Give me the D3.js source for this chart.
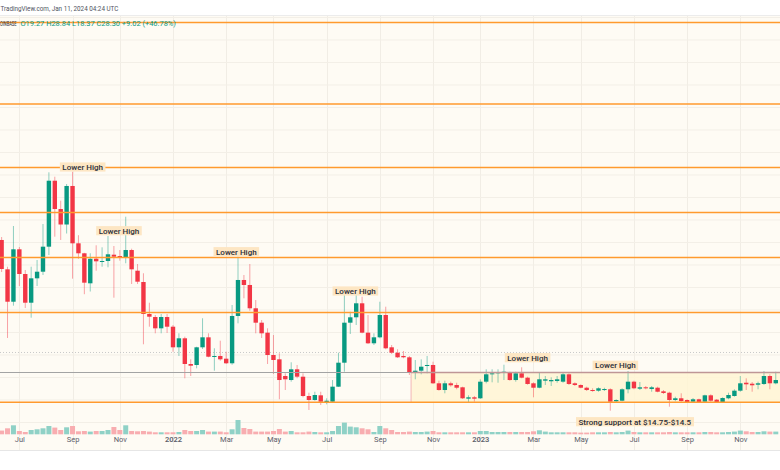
<!DOCTYPE html>
<html><head><meta charset="utf-8">
<script src="https://cdn.jsdelivr.net/npm/d3@7"></script>
<style>body{margin:0;background:#fff;} svg{display:block;font-family:Roboto,"Noto Sans",sans-serif;}</style>
</head><body><svg id="c" width="780" height="470"></svg>
<script>
// ---------- data (weekly candles, ETC/USD Coinbase) ----------
const startWeek = "2021-06-14";
const opens = [50.56,44.04,36.84,48.49,43.0,36.62,42.04,43.51,49.07,63.73,
57.44,54.0,62.56,49.82,47.6,40.93,46.4,45.67,45.89,47.29,
47.0,46.71,48.33,43.73,41.22,34.11,33.44,30.93,33.44,31.29,
26.71,28.71,23.0,22.78,26.71,28.93,24.62,24.78,24.18,23.16,
33.67,41.67,40.56,35.38,32.18,29.96,25.0,24.04,20.33,19.44,
21.82,20.18,15.89,15.0,16.04,14.56,14.62,17.96,23.29,32.18,
33.38,36.49,29.96,27.6,28.93,33.89,26.71,25.51,24.78,24.49,
21.22,21.51,22.56,22.78,18.71,17.22,18.71,18.33,17.82,15.29,
15.6,15.38,19.07,20.71,20.93,21.07,21.16,19.44,20.93,19.96,
18.71,17.73,19.29,19.16,19.22,19.07,20.71,18.71,18.33,17.73,
17.22,17.07,17.22,17.38,14.71,14.84,17.38,19.07,17.51,17.82,
17.44,17.73,16.93,16.62,15.0,15.38,15.0,14.62,15.16,14.62,
16.04,15.07,14.56,15.38,15.89,17.07,18.84,18.62,18.4,18.56,
20.33,18.71];
const highs = [51.22,44.62,53.67,49.0,43.89,44.62,46.11,54.11,65.6,64.62,
59.29,63.0,65.73,51.62,47.7,47.6,49.38,48.93,51.44,49.22,
48.33,55.73,48.62,45.22,43.16,36.62,33.89,34.11,34.11,31.67,
29.82,29.07,24.04,26.84,33.16,29.82,26.49,28.18,25.73,36.11,
46.84,42.78,45.22,37.22,32.78,30.93,29.44,25.38,20.93,23.38,
22.78,20.93,16.62,16.84,16.84,15.38,19.44,25.51,38.78,34.62,
38.78,37.96,33.89,29.82,36.84,35.73,27.22,26.27,25.89,24.78,
23.89,24.04,24.78,23.51,19.29,19.29,19.07,18.84,17.96,16.04,
15.89,19.6,21.82,21.82,21.82,22.84,21.29,21.29,22.27,20.18,
18.93,21.07,20.33,20.04,20.33,21.07,20.93,18.93,18.49,17.96,
17.6,17.82,17.73,17.6,15.16,17.6,21.44,19.29,19.0,18.11,
18.11,17.96,17.22,16.84,15.73,16.49,15.16,15.44,15.29,16.18,
16.27,15.22,15.6,16.62,17.38,20.33,19.82,19.0,19.07,21.44,
20.71,21.29];
const lows = [43.44,28.78,35.96,40.33,35.44,33.29,40.33,42.78,47.22,51.29,
50.56,52.0,41.96,46.38,38.51,39.11,43.73,44.62,44.49,37.73,
45.96,45.38,40.78,40.78,27.38,31.29,29.82,29.82,29.89,25.73,
24.78,19.82,20.33,22.04,26.33,24.49,21.51,23.73,23.0,22.84,
32.04,37.6,34.84,29.82,28.78,23.0,20.78,15.16,17.22,19.07,
19.82,15.6,12.78,14.84,13.89,14.04,14.4,17.89,21.29,29.67,
31.67,29.82,27.44,27.22,28.71,26.27,25.22,24.33,24.27,20.56,
19.6,20.71,20.93,18.56,17.07,16.49,17.96,17.38,15.22,14.49,
14.62,15.22,18.71,18.93,18.84,19.44,19.29,19.07,19.82,18.4,
15.6,17.6,18.33,18.11,18.84,18.84,18.33,18.11,17.6,17.0,
16.84,16.84,17.0,12.62,14.4,14.71,16.49,17.38,17.22,17.38,
16.84,16.71,16.33,13.51,14.71,14.62,14.4,14.4,14.4,14.4,
14.62,14.33,14.4,15.16,15.73,16.84,17.22,16.84,17.38,18.33,
17.38,18.49];
const closes = [44.11,36.84,48.49,43.0,36.62,42.04,43.51,49.07,63.73,57.44,
54.0,62.56,49.82,47.6,41.07,46.38,45.82,45.89,47.38,46.84,
46.71,48.33,44.04,41.29,34.11,33.51,30.93,33.44,31.29,26.71,
28.71,23.0,22.62,26.71,28.93,24.62,24.78,24.04,23.16,33.67,
41.67,40.56,35.38,32.18,29.82,25.0,23.89,19.44,19.6,21.82,
20.18,15.89,15.0,16.11,14.62,14.84,17.96,23.29,32.18,33.38,
36.49,29.96,27.6,28.93,33.89,26.49,25.51,24.49,24.49,21.16,
21.51,22.4,22.78,18.71,17.22,18.71,18.27,17.73,15.38,15.6,
15.29,19.07,20.71,20.93,21.16,21.29,19.44,20.93,19.96,18.56,
17.73,19.6,19.6,19.44,19.6,20.71,18.56,18.33,17.73,17.22,
17.0,17.6,17.44,14.62,15.0,17.38,19.07,17.6,17.82,17.6,
17.82,16.84,16.56,15.0,15.38,14.78,14.56,15.16,14.56,16.04,
14.84,14.49,15.44,16.11,17.07,18.71,18.49,18.27,18.71,20.33,
18.71,19.44];
const volumes = [370,600,900,330,230,430,500,600,830,670,
430,700,830,300,330,270,330,330,430,730,
430,900,330,300,330,270,200,200,200,200,
230,430,330,330,430,270,270,270,200,500,
1430,630,530,270,270,270,330,530,270,330,
200,200,270,230,200,200,330,830,1170,770,
700,600,500,230,830,600,430,230,230,270,
230,230,270,330,200,200,200,200,200,200,
200,330,330,230,230,230,230,230,230,230,
300,400,270,200,200,200,200,200,170,170,
200,200,200,230,200,230,370,230,200,200,
200,200,200,230,200,200,200,200,200,230,
230,200,200,230,270,370,300,230,230,300,
270,270];
const tickDates = ["2021-07-05","2021-09-06","2021-11-01","2022-01-03","2022-03-07","2022-05-02",
"2022-07-04","2022-09-05","2022-11-07","2023-01-02","2023-03-06","2023-05-01","2023-07-03","2023-09-04","2023-11-06"];
const tickLabels = ["Jul","Sep","Nov","2022","Mar","May","Jul","Sep","Nov","2023","Mar","May","Jul","Sep","Nov"];
const resistanceLevels = [98.89, 80.78, 66.67, 56.67, 46.67, 34.44];
const rangeTop = 21.11;
const supportLevel = 14.5;
const dottedLevel = 25.56;
const rangeStart = "2022-10-12";
const annotationDates = ["2021-09-18","2021-10-31","2022-03-19","2022-08-07","2023-02-27","2023-06-11","2023-07-04"];
const annotationPrices = [66.78, 52.62, 47.96, 39.22, 24.4, 22.71, 10.18];
const annotationTexts = ["Lower High","Lower High","Lower High","Lower High","Lower High","Lower High","Strong support at $14.75-$14.5"];
const headerText = "TradingView.com, Jan 11, 2024 04:24 UTC";
const legendSymbol = "OINBASE";
const legendValues = "O19.27  H28.84  L18.37  C28.30  +9.02 (+46.78%)";

// ---------- drawing ----------
const W = 780, H = 470;
const paneTop = 16, paneBottom = 450, volBase = 434.3;
const parse = d3.utcParse("%Y-%m-%d");
const start = parse(startWeek);
const bars = opens.map((o, i) => ({
  date: d3.utcMonday.offset(start, i), o, h: highs[i], l: lows[i], c: closes[i], v: volumes[i]
}));

const x = d3.scaleUtc().domain([parse("2022-01-03"), parse("2023-01-02")]).range([173, 480.3]);
const y = d3.scaleLinear().domain([0, 100]).range([467.5, 17.5]);
const vy = d3.scaleLinear().domain([0, 3000]).range([volBase, volBase - 30]);

const UP = "#089981", DOWN = "#f23645";
const svg = d3.select("#c");

svg.append("rect").attr("width", W).attr("height", H).attr("fill", "#ffffff");
svg.append("rect").attr("x", 0).attr("y", paneTop).attr("width", W).attr("height", paneBottom - paneTop).attr("fill", "#fefbf4");
svg.append("line").attr("x1", 0).attr("x2", W).attr("y1", paneTop - 0.5).attr("y2", paneTop - 0.5).attr("stroke", "#ececec");
svg.append("line").attr("x1", 0).attr("x2", W).attr("y1", paneBottom + 0.5).attr("y2", paneBottom + 0.5).attr("stroke", "#e6e6e6");

const clip = svg.append("defs").append("clipPath").attr("id", "pane");
clip.append("rect").attr("x", 0).attr("y", paneTop).attr("width", W).attr("height", paneBottom - paneTop);
const pane = svg.append("g").attr("clip-path", "url(#pane)");

// grid
const tDates = tickDates.map(parse);
pane.append("g").selectAll("line").data(tDates).join("line")
  .attr("x1", d => Math.round(x(d)) + 0.5).attr("x2", d => Math.round(x(d)) + 0.5)
  .attr("y1", paneTop).attr("y2", paneBottom).attr("stroke", "#f1ede5");
pane.append("g").selectAll("line").data(y.ticks(25).filter(t => y(t) < volBase)).join("line")
  .attr("x1", 0).attr("x2", W).attr("y1", d => y(d)).attr("y2", d => y(d)).attr("stroke", "#f3efe7");

// range box
const rx = x(parse(rangeStart));
pane.append("rect").attr("x", rx).attr("y", y(rangeTop)).attr("width", W - rx + 5)
  .attr("height", y(supportLevel) - y(rangeTop)).attr("fill", "#fff4d4").attr("opacity", 0.85);
pane.append("line").attr("x1", rx).attr("x2", rx).attr("y1", y(rangeTop)).attr("y2", y(supportLevel))
  .attr("stroke", "#f3b7b7").attr("stroke-width", 1);

// volume
const bw = 4.4;
pane.append("g").selectAll("rect").data(bars).join("rect")
  .attr("x", d => x(d.date) - 2.5).attr("width", 5)
  .attr("y", d => vy(d.v)).attr("height", d => volBase - vy(d.v))
  .attr("fill", d => d.c >= d.o ? "#8fd1c6" : "#f8adb0");

// dotted line
pane.append("line").attr("x1", 0).attr("x2", W).attr("y1", y(dottedLevel)).attr("y2", y(dottedLevel))
  .attr("stroke", "#c9c9c9").attr("stroke-dasharray", "1,2");

// candles
const cg = pane.append("g");
cg.selectAll("line").data(bars).join("line")
  .attr("x1", d => x(d.date)).attr("x2", d => x(d.date))
  .attr("y1", d => y(d.h)).attr("y2", d => y(d.l))
  .attr("stroke", d => d.c >= d.o ? UP : DOWN).attr("stroke-opacity", 0.45).attr("stroke-width", 1);
cg.selectAll("rect").data(bars).join("rect")
  .attr("x", d => x(d.date) - bw / 2).attr("width", bw)
  .attr("y", d => y(Math.max(d.o, d.c)))
  .attr("height", d => Math.max(1, Math.abs(y(d.o) - y(d.c))))
  .attr("fill", d => d.c >= d.o ? UP : DOWN);

// levels
pane.append("line").attr("x1", 0).attr("x2", W).attr("y1", y(rangeTop)).attr("y2", y(rangeTop))
  .attr("stroke", "#a3a3a3").attr("stroke-width", 1.2);
pane.append("line").attr("x1", rx).attr("x2", W).attr("y1", y(rangeTop)).attr("y2", y(rangeTop))
  .attr("stroke", "#bf9696").attr("stroke-width", 1.3);
pane.append("g").selectAll("line").data(resistanceLevels.concat([supportLevel])).join("line")
  .attr("x1", 0).attr("x2", W).attr("y1", d => y(d)).attr("y2", d => y(d))
  .attr("stroke", "#ff9a2e").attr("stroke-width", 1.5);

// annotations
annotationTexts.forEach((txt, i) => {
  const g = svg.append("g");
  const cx = x(parse(annotationDates[i])), cy = y(annotationPrices[i]);
  const t = g.append("text").attr("x", cx).attr("y", cy + 3)
    .attr("text-anchor", "middle").attr("fill", "#2a2e39")
    .style("font-size", "8px").style("font-weight", 500).text(txt);
  const bb = t.node().getBBox();
  g.insert("rect", "text").attr("x", bb.x - 2.5).attr("y", cy - 4.6)
    .attr("width", bb.width + 5).attr("height", 9.2).attr("fill", "#fde6c3");
});

// time axis
const axis = d3.axisBottom(x).tickValues(tDates).tickSize(0).tickPadding(0)
  .tickFormat((d, i) => tickLabels[i]);
const ag = svg.append("g").attr("transform", "translate(0,437)").call(axis);
ag.select(".domain").remove();
ag.selectAll("text").attr("fill", "#5d606b").style("font-size", "7.5px")
  .style("font-family", "Roboto, sans-serif")
  .style("font-weight", (d, i) => /^\d{4}$/.test(tickLabels[i]) ? 600 : 400);

// header + legend: horizontally condensed via transform so their boxes stay true
function squeezed(txt, x0, y0, targetW, fill) {
  const g = svg.append("g");
  const t = g.append("text").attr("x", 0).attr("y", 0).attr("fill", fill)
    .style("font-size", "7px").text(txt);
  const w = t.node().getComputedTextLength();
  g.attr("transform", `translate(${x0},${y0}) scale(${targetW / w},1)`);
}
squeezed(headerText, 0.5, 11, 118, "#50535e");
squeezed(legendSymbol, 0, 25.5, 16.5, "#2a2e39");
squeezed(legendValues, 20.5, 25.5, 155.5, "#089981");
</script></body></html>
